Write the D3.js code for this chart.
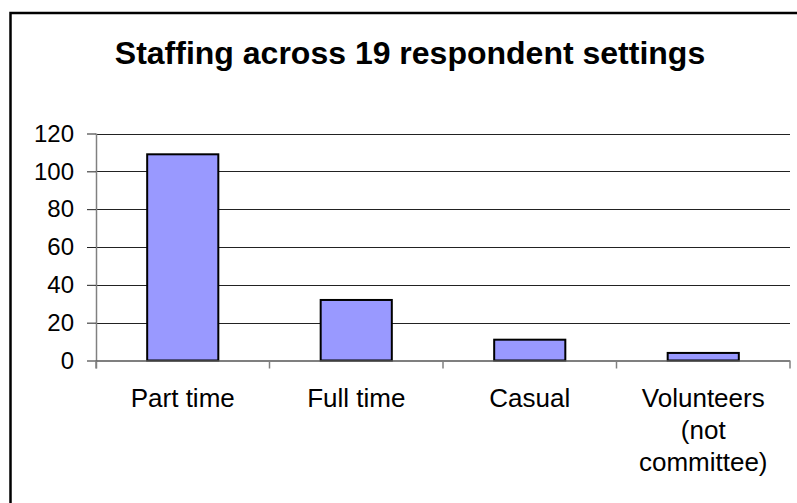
<!DOCTYPE html>
<html>
<head>
<meta charset="utf-8">
<script src="https://cdn.jsdelivr.net/npm/d3@7/dist/d3.min.js"></script>
<style>
  html, body { margin: 0; padding: 0; background: #fff; }
  svg { display: block; font-family: "Liberation Sans", Arial, sans-serif; }
</style>
</head>
<body>
<svg id="chart" width="797" height="503"></svg>
<script>
// Staffing counts by employment type
const categories = ["Part time", "Full time", "Casual", "Volunteers (not committee)"];
const categoryLines = [["Part time"], ["Full time"], ["Casual"], ["Volunteers", "(not", "committee)"]];
const staffCounts = [109, 32, 11, 4];
const yTicks = [0, 20, 40, 60, 80, 100, 120];
const titleText = "Staffing across 19 respondent settings";

const svg = d3.select("#chart");
const W = 797, H = 503;
const plot = { left: 96, right: 790, top: 133.5, bottom: 360.5 };

svg.append("rect").attr("width", W).attr("height", H).attr("fill", "#fff");

// chart frame
svg.append("rect")
  .attr("x", 10.5).attr("y", 13)
  .attr("width", W + 20).attr("height", H + 20)
  .attr("fill", "none").attr("stroke", "#000").attr("stroke-width", 2.5);

svg.append("text")
  .attr("x", 410).attr("y", 63.5)
  .attr("text-anchor", "middle")
  .attr("font-weight", "bold")
  .attr("font-size", 32)
  .text(titleText);

const x = d3.scaleBand().domain(categories).range([plot.left, plot.right]).paddingInner(0.59).paddingOuter(0.295);
const y = d3.scaleLinear().domain([0, 120]).range([plot.bottom, plot.top]);

// gridlines
svg.append("g")
  .selectAll("line")
  .data(yTicks.filter(d => d > 0))
  .join("line")
  .attr("x1", plot.left).attr("x2", plot.right)
  .attr("y1", d => Math.round(y(d)) + 0.5).attr("y2", d => Math.round(y(d)) + 0.5)
  .attr("stroke", "#222").attr("stroke-width", 1);

// y axis
const yAxis = svg.append("g")
  .attr("transform", `translate(${plot.left},0)`)
  .call(d3.axisLeft(y).tickValues(yTicks).tickSize(9).tickPadding(13));
yAxis.select(".domain").attr("stroke", "#808080").attr("stroke-width", 1.5)
  .attr("d", `M0.5,${plot.top}V${plot.bottom + 8}`);
yAxis.selectAll(".tick line").attr("stroke", "#222");
yAxis.selectAll(".tick text").attr("font-size", 24).attr("fill", "#000")
  .attr("font-family", "'Liberation Sans', Arial, sans-serif");

// bars
svg.append("g")
  .selectAll("rect")
  .data(staffCounts)
  .join("rect")
  .attr("x", (d, i) => x(categories[i]))
  .attr("y", d => y(d))
  .attr("width", x.bandwidth())
  .attr("height", d => y(0) - y(d))
  .attr("fill", "#9999FF")
  .attr("stroke", "#000")
  .attr("stroke-width", 2);

// x axis line and category ticks
const xEdges = d3.range(categories.length + 1).map(i => plot.left + i * x.step());
svg.append("line")
  .attr("x1", plot.left).attr("x2", plot.right)
  .attr("y1", plot.bottom + 0.5).attr("y2", plot.bottom + 0.5)
  .attr("stroke", "#555").attr("stroke-width", 1.5);
svg.append("g")
  .selectAll("line")
  .data(xEdges)
  .join("line")
  .attr("x1", d => d).attr("x2", d => d)
  .attr("y1", plot.bottom).attr("y2", plot.bottom + 8)
  .attr("stroke", "#808080").attr("stroke-width", 1.5);

// category labels
const labels = svg.append("g")
  .selectAll("text")
  .data(categoryLines)
  .join("text")
  .attr("text-anchor", "middle")
  .attr("font-size", 26)
  .attr("x", (d, i) => x(categories[i]) + x.bandwidth() / 2)
  .attr("y", 407);
labels.selectAll("tspan")
  .data(d => d)
  .join("tspan")
  .attr("x", function () { return d3.select(this.parentNode).attr("x"); })
  .attr("dy", (d, i) => i === 0 ? 0 : 32)
  .text(d => d);
</script>
</body>
</html>
